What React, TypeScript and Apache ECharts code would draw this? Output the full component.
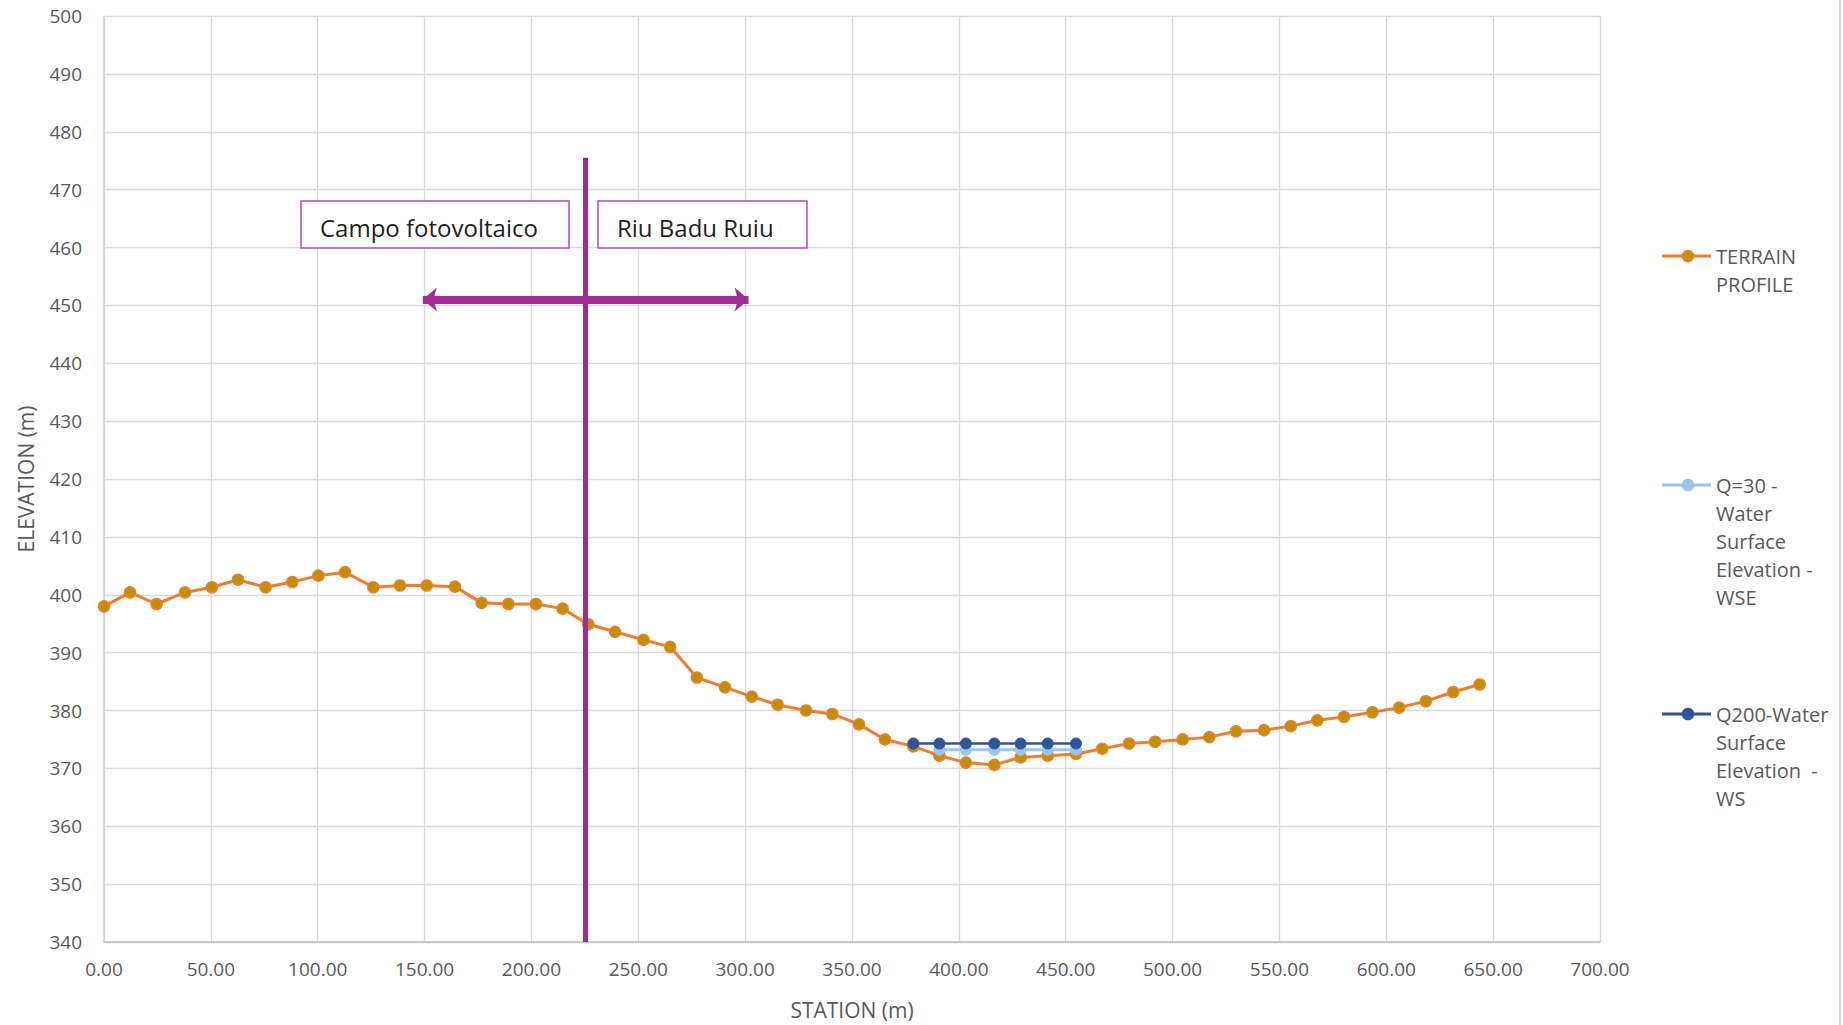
import React, { useEffect, useRef } from "react";
import * as echarts from "echarts";

// ---- data ----
const TERRAIN_STATION = [
  0.0, 12.2, 24.6, 37.9, 50.5, 62.7, 75.6, 88.1, 100.3, 112.8, 126.0, 138.5, 151.0, 164.2,
  176.7, 189.2, 202.1, 214.6, 226.6, 239.1, 252.4, 264.9, 277.4, 290.6, 303.1, 315.2, 328.5,
  340.8, 353.3, 365.4, 378.7, 390.9, 403.3, 416.6, 428.9, 441.6, 454.8, 467.1, 479.6, 491.8,
  504.7, 517.2, 529.7, 542.8, 555.3, 567.7, 580.2, 593.5, 606.0, 618.5, 631.3, 643.7,
];
const TERRAIN_ELEV = [
  398.0, 400.4, 398.4, 400.4, 401.3, 402.6, 401.3, 402.2, 403.3, 403.9, 401.3, 401.6, 401.6,
  401.4, 398.6, 398.4, 398.4, 397.6, 394.9, 393.6, 392.2, 391.0, 385.7, 384.0, 382.4, 381.0,
  380.0, 379.4, 377.6, 375.0, 373.8, 372.2, 371.0, 370.6, 371.9, 372.2, 372.5, 373.4, 374.3,
  374.6, 375.0, 375.4, 376.4, 376.6, 377.3, 378.3, 378.9, 379.7, 380.5, 381.6, 383.2, 384.5,
];
const Q30_STATION = [390.9, 403.3, 416.6, 428.9, 441.6, 454.8];
const Q30_ELEV = [373.2, 373.2, 373.2, 373.2, 373.2, 373.2];
const Q200_STATION = [378.7, 390.9, 403.3, 416.6, 428.9, 441.6, 454.8];
const Q200_ELEV = [374.3, 374.3, 374.3, 374.3, 374.3, 374.3, 374.3];

const X_MIN = 0;
const X_MAX = 700;
const X_STEP = 50;
const Y_MIN = 340;
const Y_MAX = 500;
const Y_STEP = 10;

// annotations (data coords)
const DIVIDER_STATION = 225.3;
const DIVIDER_ELEV = [340, 475.5];
const ARROW_STATION = [149.2, 301.6];
const ARROW_ELEV = 451;

const SERIES_NAMES = [
  "TERRAIN PROFILE",
  "Q=30 - Water Surface Elevation - WSE",
  "Q200-Water Surface Elevation  - WS",
];
const LEGEND_LINES = [
  ["TERRAIN", "PROFILE"],
  ["Q=30 -", "Water", "Surface", "Elevation -", "WSE"],
  ["Q200-Water", "Surface", "Elevation  -", "WS"],
];
const ZONE_LABELS = ["Campo fotovoltaico", "Riu Badu Ruiu"];

const FONT = "'Open Sans', 'Noto Sans', sans-serif";
const ORANGE = "#ED7D31";
const GOLD = "#BF9000";
const LIGHT_BLUE = "#9DC3E6";
const DARK_BLUE = "#2F5597";
const PURPLE = "#A02B93";
const GRAY_TEXT = "#595959";

const zip = (xs: number[], ys: number[]) => xs.map((x, i) => [x, ys[i]]);

const LEGEND_LH = 28;

function legendItem(y: number, lineColor: string, fill: string, stroke: string, lines: string[]) {
  return {
    type: "group",
    children: [
      {
        type: "line",
        shape: { x1: 1662, y1: y, x2: 1711, y2: y },
        style: { stroke: lineColor, lineWidth: 3 },
      },
      {
        type: "circle",
        shape: { cx: 1688, cy: y, r: 5.5 },
        style: { fill, stroke, lineWidth: 1.5 },
      },
      {
        type: "text",
        x: 1716,
        y: y - LEGEND_LH / 2,
        style: {
          text: lines.join("\n"),
          fill: GRAY_TEXT,
          fontSize: 20,
          fontFamily: FONT,
          lineHeight: LEGEND_LH,
          verticalAlign: "top",
          align: "left",
        },
      },
    ],
  };
}

function zoneBox(x: number, y: number, w: number, h: number, textX: number, label: string) {
  return {
    type: "group",
    children: [
      {
        type: "rect",
        shape: { x, y, width: w, height: h },
        style: { fill: "#ffffff", stroke: "#A94DB8", lineWidth: 1.5 },
        z: 100,
      },
      {
        type: "text",
        x: textX,
        y: y + 26,
        z: 101,
        style: {
          text: label,
          fill: "#1f1f1f",
          fontSize: 24,
          fontFamily: FONT,
          verticalAlign: "middle",
          align: "left",
        },
      },
    ],
  };
}

export default function App() {
  const ref = useRef<HTMLDivElement>(null);

  useEffect(() => {
    if (!ref.current) return;
    const chart = echarts.init(ref.current, null, { renderer: "svg" });

    const option: any = {
      animation: false,
      backgroundColor: "#ffffff",
      textStyle: { fontFamily: FONT },
      legend: { show: false },
      grid: { left: 104, right: 243, top: 16, bottom: 83, containLabel: false },
      xAxis: {
        type: "value",
        min: X_MIN,
        max: X_MAX,
        interval: X_STEP,
        name: "STATION (m)",
        nameLocation: "middle",
        nameGap: 57,
        nameTextStyle: { color: GRAY_TEXT, fontSize: 21, fontFamily: FONT },
        axisLine: { show: true, lineStyle: { color: "#bfbfbf", width: 1.5 } },
        axisTick: { show: false },
        axisLabel: {
          color: GRAY_TEXT,
          fontSize: 19,
          fontFamily: FONT,
          margin: 17,
          formatter: (v: number) => v.toFixed(2),
        },
        splitLine: { show: true, lineStyle: { color: "#d9d9d9", width: 1.3 } },
      },
      yAxis: {
        type: "value",
        min: Y_MIN,
        max: Y_MAX,
        interval: Y_STEP,
        name: "ELEVATION (m)",
        nameLocation: "middle",
        nameGap: 68,
        nameRotate: 90,
        nameTextStyle: { color: GRAY_TEXT, fontSize: 21, fontFamily: FONT },
        axisLine: { show: true, lineStyle: { color: "#d0d0d0", width: 1.5 } },
        axisTick: { show: false },
        axisLabel: { color: GRAY_TEXT, fontSize: 19, fontFamily: FONT, margin: 22 },
        splitLine: { show: true, lineStyle: { color: "#d9d9d9", width: 1.3 } },
      },
      series: [
        {
          name: SERIES_NAMES[0],
          type: "line",
          data: zip(TERRAIN_STATION, TERRAIN_ELEV),
          symbol: "circle",
          symbolSize: 11,
          lineStyle: { color: ORANGE, width: 3 },
          itemStyle: { color: GOLD, borderColor: ORANGE, borderWidth: 1.5 },
          emphasis: { disabled: true },
          z: 2,
        },
        {
          name: SERIES_NAMES[1],
          type: "line",
          data: zip(Q30_STATION, Q30_ELEV),
          symbol: "circle",
          symbolSize: 11,
          lineStyle: { color: LIGHT_BLUE, width: 3 },
          itemStyle: { color: LIGHT_BLUE, borderColor: LIGHT_BLUE, borderWidth: 1 },
          emphasis: { disabled: true },
          z: 3,
        },
        {
          name: SERIES_NAMES[2],
          type: "line",
          data: zip(Q200_STATION, Q200_ELEV),
          symbol: "circle",
          symbolSize: 11,
          lineStyle: { color: DARK_BLUE, width: 2.5 },
          itemStyle: { color: DARK_BLUE, borderColor: DARK_BLUE, borderWidth: 1 },
          emphasis: { disabled: true },
          z: 4,
        },
        {
          name: "annotations",
          type: "line",
          data: [],
          silent: true,
          z: 5,
          markLine: {
            silent: true,
            animation: false,
            label: { show: false },
            emphasis: { disabled: true },
            data: [
              [
                {
                  coord: [DIVIDER_STATION, DIVIDER_ELEV[0]],
                  symbol: "none",
                  lineStyle: { color: PURPLE, width: 5, type: "solid" },
                },
                { coord: [DIVIDER_STATION, DIVIDER_ELEV[1]], symbol: "none" },
              ],
              [
                {
                  coord: [ARROW_STATION[0], ARROW_ELEV],
                  symbol: "arrow",
                  symbolSize: [18, 14],
                  lineStyle: { color: PURPLE, width: 8, type: "solid" },
                  itemStyle: { color: PURPLE },
                },
                {
                  coord: [ARROW_STATION[1], ARROW_ELEV],
                  symbol: "arrow",
                  symbolSize: [18, 14],
                  itemStyle: { color: PURPLE },
                },
              ],
            ],
          },
        },
      ],
      graphic: [
        {
          type: "line",
          shape: { x1: 1840, y1: 0, x2: 1840, y2: 1025 },
          style: { stroke: "#d9d9d9", lineWidth: 2 },
        },
        zoneBox(301, 201, 268, 47, 320, ZONE_LABELS[0]),
        zoneBox(598, 201, 209, 47, 617, ZONE_LABELS[1]),
        legendItem(256, ORANGE, GOLD, ORANGE, LEGEND_LINES[0]),
        legendItem(485, LIGHT_BLUE, LIGHT_BLUE, LIGHT_BLUE, LEGEND_LINES[1]),
        legendItem(714, DARK_BLUE, DARK_BLUE, DARK_BLUE, LEGEND_LINES[2]),
      ],
    };

    chart.setOption(option);
    return () => chart.dispose();
  }, []);

  return (
    <div
      ref={ref}
      style={{ position: "absolute", left: 0, top: 0, width: 1843, height: 1025, background: "#fff" }}
    />
  );
}
